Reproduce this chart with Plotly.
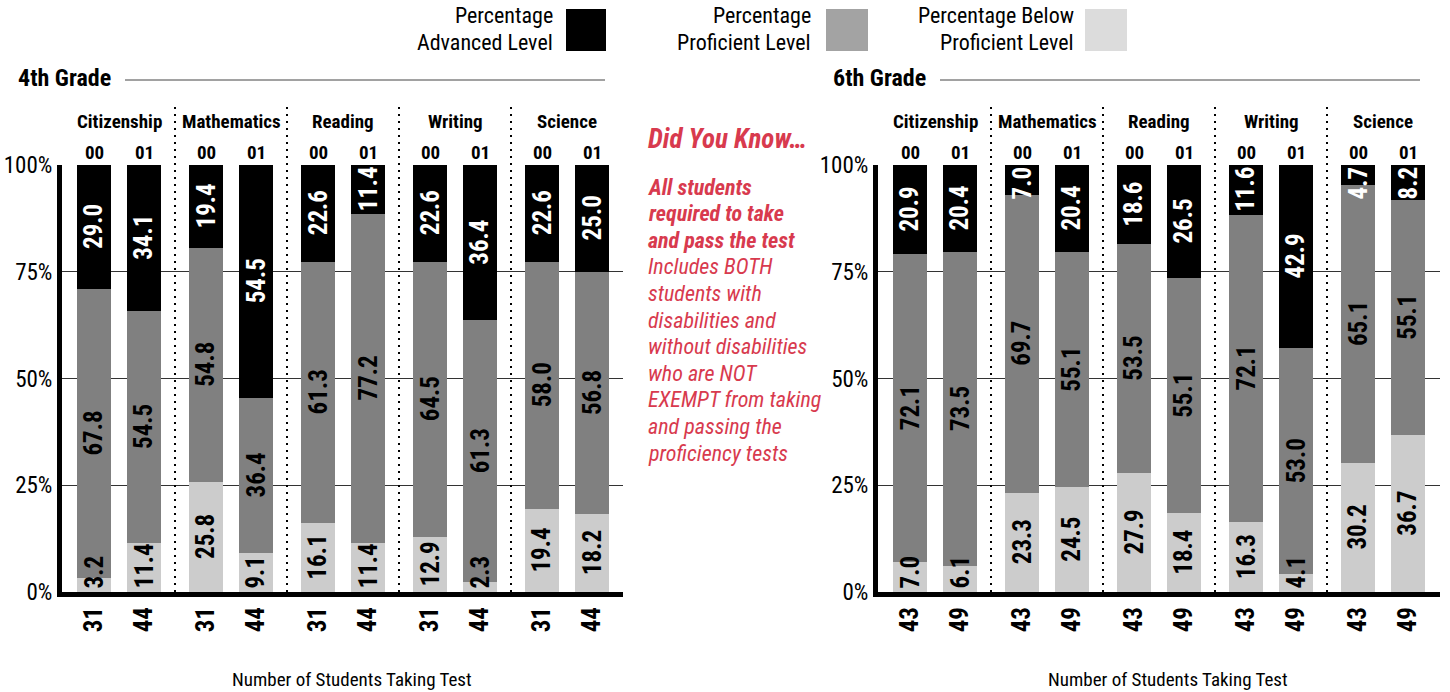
import plotly.graph_objects as go

# ---------------- data ----------------
subjects = ["Citizenship", "Mathematics", "Reading", "Writing", "Science"]
years = ["00", "01"]

g4_advanced = [29.0, 34.1, 19.4, 54.5, 22.6, 11.4, 22.6, 36.4, 22.6, 25.0]
g4_proficient = [67.8, 54.5, 54.8, 36.4, 61.3, 77.2, 64.5, 61.3, 58.0, 56.8]
g4_below = [3.2, 11.4, 25.8, 9.1, 16.1, 11.4, 12.9, 2.3, 19.4, 18.2]
g4_students = ["31", "44", "31", "44", "31", "44", "31", "44", "31", "44"]

g6_advanced = [20.9, 20.4, 7.0, 20.4, 18.6, 26.5, 11.6, 42.9, 4.7, 8.2]
g6_proficient = [72.1, 73.5, 69.7, 55.1, 53.5, 55.1, 72.1, 53.0, 65.1, 55.1]
g6_below = [7.0, 6.1, 23.3, 24.5, 27.9, 18.4, 16.3, 4.1, 30.2, 36.7]
g6_students = ["43", "49", "43", "49", "43", "49", "43", "49", "43", "49"]

y_ticks = [0, 25, 50, 75, 100]
y_tick_text = ["0%", "25%", "50%", "75%", "100%"]

legend_labels = [["Percentage", "Advanced Level"],
                 ["Percentage", "Proficient Level"],
                 ["Percentage Below", "Proficient Level"]]

# ---------------- style ----------------
FONT = "Roboto Condensed, Noto Sans ExtraCondensed, Noto Sans Condensed, DejaVu Sans Condensed, sans-serif"
C_ADV, C_PROF, C_BELOW = "#000000", "#808080", "#cccccc"
L_COLORS = ["#000000", "#a3a3a3", "#dcdcdc"]
RED = "#d83a4e"
W, H = 1450, 692
LBL = 25

GROUP_STEP = 2.24
pos = [g * GROUP_STEP + j for g in range(len(subjects)) for j in range(len(years))]
seps = [g * GROUP_STEP + 1.62 for g in range(len(subjects) - 1)]
centers = [g * GROUP_STEP + 0.5 for g in range(len(subjects))]

dom_y = [1 - 592 / H, 1 - 165 / H]
dom_x1 = [62 / W, 623 / W]
dom_x2 = [878 / W, 1440 / W]
PX_PER_PCT = (592 - 165) / 100.0

fig = go.Figure()

def add_grade(adv, prof, below, xa, ya):
    fig.add_trace(go.Bar(x=pos, y=below, marker_color=C_BELOW, width=0.68,
                         name="Percentage Below Proficient Level", xaxis=xa, yaxis=ya,
                         showlegend=False, hoverinfo="skip"))
    fig.add_trace(go.Bar(x=pos, y=prof, marker_color=C_PROF, width=0.68,
                         name="Percentage Proficient Level", xaxis=xa, yaxis=ya,
                         showlegend=False, hoverinfo="skip"))
    fig.add_trace(go.Bar(x=pos, y=adv, marker_color=C_ADV, width=0.68,
                         name="Percentage Advanced Level", xaxis=xa, yaxis=ya,
                         showlegend=False, hoverinfo="skip"))
    for i, p in enumerate(pos):
        b, pr, a = below[i], prof[i], adv[i]
        segs = [(b, 0, "below"), (pr, b, "prof"), (a, b + pr, "adv")]
        for val, base, kind in segs:
            txt = f"{val:.1f}"
            tlen = LBL * (0.5 * (len(txt) - 1) + 0.3)
            color = "white" if kind == "adv" else "black"
            seg_px = val * PX_PER_PCT
            if kind == "below" and seg_px < tlen + 4:
                y, yanc, ysh = 0, "bottom", 2
            elif kind == "adv" and seg_px < tlen + 4:
                y, yanc, ysh = min(base + val, 100.0), "top", -1
            else:
                y, yanc, ysh = base + val / 2, "middle", 0
            fig.add_annotation(x=p, y=y, xref=xa, yref=ya, text=txt, showarrow=False,
                               textangle=-90, xanchor="center", yanchor=yanc, yshift=ysh,
                               borderpad=0,
                               font=dict(family=FONT, size=LBL, color=color, weight="bold"))

add_grade(g4_advanced, g4_proficient, g4_below, "x", "y")
add_grade(g6_advanced, g6_proficient, g6_below, "x2", "y2")

axis_common_y = dict(range=[0, 100], tickmode="array", tickvals=y_ticks, ticktext=y_tick_text,
                     showgrid=True, gridcolor="#333333", gridwidth=1, showline=True,
                     linewidth=5, linecolor="black", ticks="", zeroline=False,
                     automargin=False, tickfont=dict(family=FONT, size=23, color="black"),
                     fixedrange=True)
axis_common_x = dict(tickmode="array", tickvals=pos, tickangle=-90, showgrid=False,
                     showline=True, linewidth=5, linecolor="black", ticks="",
                     zeroline=False, automargin=False,
                     tickfont=dict(family=FONT, size=25, color="black", weight="bold"),
                     fixedrange=True)

fig.update_layout(
    template="none",
    width=W, height=H, margin=dict(l=0, r=0, t=0, b=0, pad=0, autoexpand=False),
    paper_bgcolor="white", plot_bgcolor="white", barmode="stack", bargap=0,
    showlegend=False,
    xaxis=dict(domain=dom_x1, range=[-0.64, 10.58], ticktext=g4_students, anchor="y",
               **axis_common_x),
    yaxis=dict(domain=dom_y, anchor="x", **axis_common_y),
    xaxis2=dict(domain=dom_x2, range=[-0.64, 10.6], ticktext=g6_students, anchor="y2",
                **axis_common_x),
    yaxis2=dict(domain=dom_y, anchor="x2", **axis_common_y),
)

# separators, headers
for xr in ["x", "x2"]:
    for s in seps:
        fig.add_shape(type="line", xref=xr, yref="paper", x0=s, x1=s,
                      y0=dom_y[0], y1=1 - 107 / H,
                      line=dict(color="black", width=2, dash="2px,5px"))
    for c, subj in zip(centers, subjects):
        fig.add_annotation(x=c, y=1 - 122 / H, xref=xr, yref="paper", text=subj,
                           showarrow=False, xanchor="center", yanchor="middle",
                           font=dict(family=FONT, size=19, color="black", weight="bold"))
    for i, p in enumerate(pos):
        fig.add_annotation(x=p, y=1 - 152 / H, xref=xr, yref="paper", text=years[i % 2],
                           showarrow=False, xanchor="center", yanchor="middle",
                           font=dict(family=FONT, size=19, color="black", weight="bold"))

# grade titles
for label, x0, lx0, lx1 in [("4th Grade", 16, 125, 605), ("6th Grade", 831, 940, 1420)]:
    fig.add_annotation(x=x0 / W, y=1 - 78 / H, xref="paper", yref="paper", text=label,
                       showarrow=False, xanchor="left", yanchor="middle",
                       font=dict(family=FONT, size=24, color="black", weight="bold"))
    fig.add_shape(type="line", xref="paper", yref="paper", x0=lx0 / W, x1=lx1 / W,
                  y0=1 - 80 / H, y1=1 - 80 / H, line=dict(color="#444444", width=1))

# x-axis titles
for xc in [352, 1168]:
    fig.add_annotation(x=xc / W, y=1 - 679 / H, xref="paper", yref="paper",
                       text="Number of Students Taking Test", showarrow=False,
                       xanchor="center", yanchor="middle",
                       font=dict(family=FONT, size=19, color="black"))

# legend
legend_geo = [(554, 566, 606), (812, 826, 868), (1075, 1085, 1127)]
for lines, col, (tx, bx0, bx1) in zip(legend_labels, L_COLORS, legend_geo):
    for k, line in enumerate(lines):
        fig.add_annotation(x=tx / W, y=1 - (15.5 + 26.5 * k) / H, xref="paper", yref="paper",
                           text=line, showarrow=False, xanchor="right", yanchor="middle",
                           borderpad=0, font=dict(family=FONT, size=22, color="black"))
    fig.add_shape(type="rect", xref="paper", yref="paper", x0=bx0 / W, x1=bx1 / W,
                  y0=1 - 51 / H, y1=1 - 9 / H, fillcolor=col, line=dict(width=0))

# Did you know
fig.add_annotation(x=647 / W, y=1 - 139 / H, xref="paper", yref="paper",
                   text="<b><i>Did You Know…</i></b>", showarrow=False, xanchor="left",
                   yanchor="middle", borderpad=0, font=dict(family=FONT, size=27, color=RED))
bold_lines = ["All students", "required to take", "and pass the test"]
ital_lines = ["Includes BOTH", "students with", "disabilities and", "without disabilities",
              "who are NOT", "EXEMPT from taking", "and passing the", "proficiency tests"]
note_lines = [f"<b><i>{l}</i></b>" for l in bold_lines] + [f"<i>{l}</i>" for l in ital_lines]
for k, line in enumerate(note_lines):
    fig.add_annotation(x=647 / W, y=1 - (187 + 26.6 * k) / H, xref="paper", yref="paper",
                       text=line, showarrow=False, xanchor="left", yanchor="middle",
                       borderpad=0, font=dict(family=FONT, size=22, color=RED))

fig.write_html("out.html", config={"displayModeBar": False},
               post_script="document.body.style.margin='0';")
